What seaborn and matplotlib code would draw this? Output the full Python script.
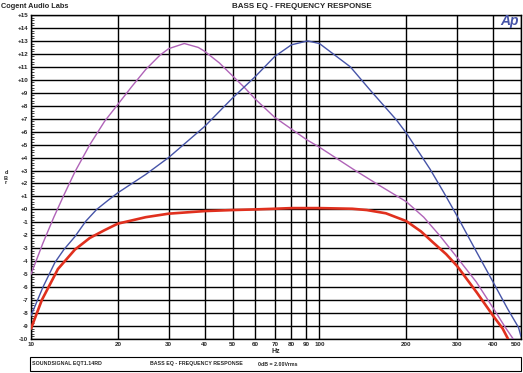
import numpy as np
import pandas as pd
import seaborn as sns
import matplotlib.pyplot as plt
from matplotlib.ticker import FixedLocator, NullLocator, MultipleLocator, FixedFormatter
from matplotlib.patches import Rectangle

# frequency (Hz) / level (dBr)
red_hz = [10, 10.9, 12.4, 14.2, 16, 18, 20, 25, 30, 40, 50, 60, 70, 80, 100,
          130, 146, 170, 200, 225, 248, 275, 300, 351, 400, 432, 451]
red_db = [-9.2, -7.0, -4.6, -3.1, -2.2, -1.6, -1.1, -0.6, -0.33, -0.13, -0.05,
          0.0, 0.05, 0.1, 0.1, 0.05, -0.05, -0.3, -0.9, -1.7, -2.56, -3.45,
          -4.36, -6.4, -8.2, -9.2, -10.0]

blue_hz = [10, 11, 12.1, 13, 14.2, 15.5, 16.9, 18.5, 20, 25, 30, 40, 50, 60, 70,
           80, 91, 100, 128, 150, 185, 200, 242, 270, 300, 350, 400, 450, 490, 500]
blue_db = [-8.2, -6.0, -4.1, -3.1, -2.1, -0.9, 0.0, 0.7, 1.28, 2.7, 4.0, 6.4, 8.6,
           10.26, 11.8, 12.7, 13.0, 12.8, 11.0, 9.2, 6.9, 5.9, 3.1, 1.3, -0.5,
           -3.25, -5.6, -7.7, -9.1, -9.8]

purple_hz = [10, 11, 12, 13, 14.2, 16, 18, 20, 22.4, 25, 28, 30, 34, 38, 40, 45,
             50, 55, 60, 70, 80, 90, 100, 131, 160, 200, 230, 262, 300, 350, 400,
             441, 470]
purple_db = [-5.0, -2.6, -0.6, 1.1, 2.9, 5.0, 6.8, 8.1, 9.5, 10.8, 11.9, 12.4,
             12.8, 12.5, 12.2, 11.3, 10.3, 9.4, 8.5, 7.1, 6.2, 5.4, 4.8, 3.1, 1.9,
             0.6, -0.6, -2.05, -3.7, -5.6, -7.6, -9.1, -10.0]

x_ticks = [10, 20, 30, 40, 50, 60, 70, 80, 90, 100, 200, 300, 400, 500]
y_ticks = list(range(-10, 16))
y_labels = [f'+{v}' if v >= 0 else f'{v}' for v in y_ticks]

sns.set_style('white')
plt.rcParams['font.family'] = ['Liberation Sans', 'DejaVu Sans']
plt.rcParams['font.weight'] = 'bold'

fig = plt.figure(figsize=(5.23, 3.73), dpi=100)
ax = fig.add_axes([31 / 523, 1 - 339 / 373, 490 / 523, 324 / 373])

sns.lineplot(x=purple_hz, y=purple_db, ax=ax, color='#b063b8', lw=1.0, zorder=3)
sns.lineplot(x=blue_hz, y=blue_db, ax=ax, color='#4654a8', lw=1.0, zorder=3)
sns.lineplot(x=red_hz, y=red_db, ax=ax, color='#e0301e', lw=1.9, zorder=4)

ax.set_xscale('log')
ax.set_xlim(10, 500)
ax.set_ylim(-10, 15)
ax.xaxis.set_major_locator(FixedLocator(x_ticks))
ax.xaxis.set_major_formatter(FixedFormatter([str(v) for v in x_ticks]))
ax.xaxis.set_minor_locator(NullLocator())
ax.set_yticks(y_ticks)
ax.set_yticklabels(y_labels)
ax.yaxis.set_minor_locator(MultipleLocator(0.2))
ax.tick_params(axis='both', labelsize=4.5, pad=2)
ax.tick_params(axis='y', which='major', direction='in', length=4, width=0.8)
ax.tick_params(axis='y', which='minor', direction='in', length=2, width=0.6, left=True)
ax.tick_params(axis='x', which='major', length=0)
ax.get_xticklabels()[-1].set_horizontalalignment('right')
ax.grid(True, color='black', lw=1.0)
for s in ax.spines.values():
    s.set_color('black')
    s.set_linewidth(1.0)
ax.set_xlabel('Hz', fontsize=5, fontweight='bold', labelpad=1)
ax.set_ylabel('')

fig.text(6 / 523, 1 - 178 / 373, 'd\nB\nr', fontsize=4, fontweight='bold',
         ha='center', va='center', linespacing=1.0)
fig.text(0.002, 1 - 6 / 373, 'Cogent Audio Labs', fontsize=5.3, fontweight='bold',
         ha='left', va='center')
fig.text(302 / 523, 1 - 6 / 373, 'BASS EQ - FREQUENCY RESPONSE', fontsize=5.8,
         fontweight='bold', ha='center', va='center')
fig.text(510 / 523, 1 - 21 / 373, 'Ap', fontsize=10, fontweight='bold',
         fontstyle='italic', color='#4654a8', ha='center', va='center')

fig.patches.append(Rectangle((30 / 523, 1 - 371 / 373), 491 / 523, 14 / 373,
                             transform=fig.transFigure, fill=False,
                             edgecolor='black', lw=0.8))
fig.text(32 / 523, 1 - 364 / 373, 'SOUNDSIGNAL EQT1.14RD', fontsize=3.8,
         fontweight='bold', ha='left', va='center')
fig.text(150 / 523, 1 - 364 / 373, 'BASS EQ - FREQUENCY RESPONSE', fontsize=3.8,
         fontweight='bold', ha='left', va='center')
fig.text(258 / 523, 1 - 364 / 373, '0dB = 2.00Vrms', fontsize=3.8,
         fontweight='bold', ha='left', va='center')

fig.savefig('out.png', dpi=100)
